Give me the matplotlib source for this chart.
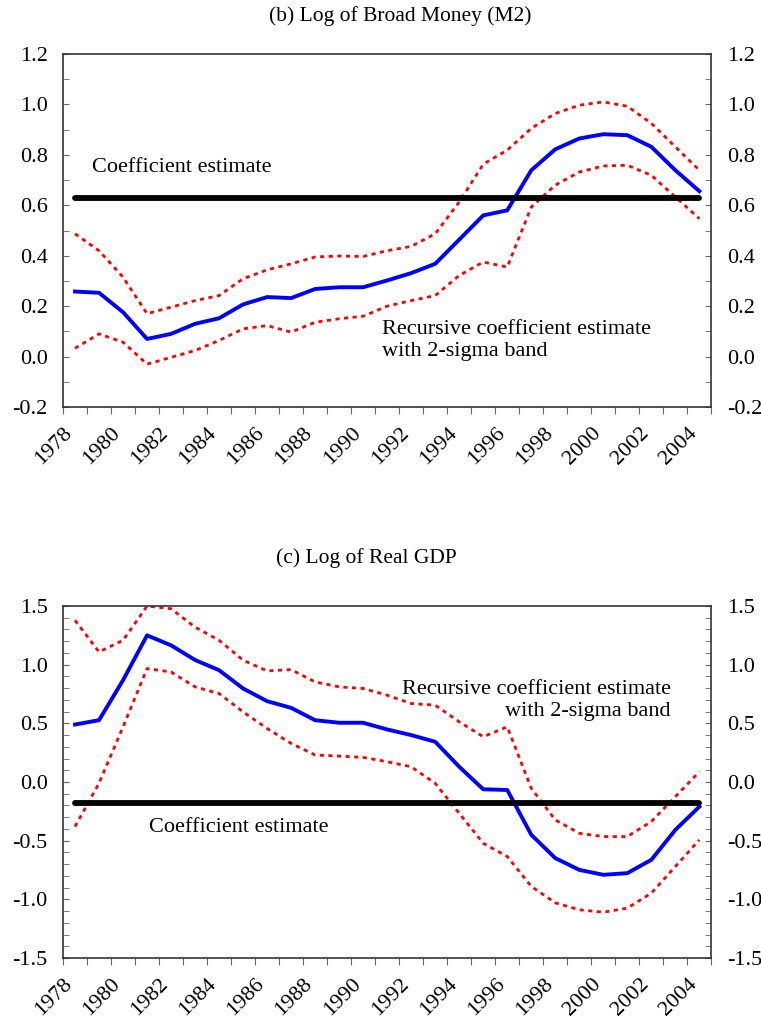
import matplotlib
matplotlib.use('Agg')
import matplotlib.pyplot as plt
import matplotlib.transforms as mtransforms
from matplotlib.ticker import MultipleLocator
import numpy as np

plt.rcParams['font.family'] = 'Liberation Serif'

years = np.arange(1978, 2005)

# (b) Log of Broad Money (M2)
m2_est = [0.258, 0.253, 0.176, 0.07, 0.09, 0.13, 0.152, 0.207, 0.236, 0.232,
          0.268, 0.275, 0.275, 0.302, 0.331, 0.368, 0.464, 0.56, 0.58, 0.739,
          0.822, 0.865, 0.882, 0.878, 0.832, 0.739, 0.656]
m2_upper = [0.487, 0.42, 0.315, 0.17, 0.196, 0.222, 0.242, 0.309, 0.344, 0.368,
            0.395, 0.399, 0.397, 0.42, 0.437, 0.487, 0.613, 0.763, 0.819, 0.905,
            0.964, 0.997, 1.01, 0.993, 0.925, 0.832, 0.739]
m2_lower = [0.033, 0.09, 0.057, -0.03, -0.003, 0.024, 0.064, 0.11, 0.123, 0.097,
            0.136, 0.15, 0.16, 0.2, 0.222, 0.242, 0.322, 0.375, 0.355, 0.593,
            0.68, 0.732, 0.756, 0.759, 0.719, 0.633, 0.547]
m2_coef = 0.63

# (c) Log of Real GDP
gdp_est = [0.49, 0.527, 0.868, 1.25, 1.165, 1.04, 0.953, 0.797, 0.689, 0.632,
           0.527, 0.505, 0.505, 0.448, 0.40, 0.343, 0.13, -0.062, -0.068, -0.45,
           -0.649, -0.749, -0.791, -0.777, -0.663, -0.408, -0.21]
gdp_upper = [1.378, 1.109, 1.208, 1.5, 1.477, 1.32, 1.208, 1.038, 0.947, 0.958,
             0.853, 0.811, 0.797, 0.74, 0.669, 0.655, 0.513, 0.386, 0.47, -0.054,
             -0.323, -0.437, -0.465, -0.465, -0.337, -0.125, 0.088]
gdp_lower = [-0.38, -0.01, 0.47, 0.967, 0.938, 0.811, 0.754, 0.598, 0.456, 0.329,
             0.23, 0.221, 0.21, 0.173, 0.13, -0.011, -0.267, -0.522, -0.635, -0.89,
             -1.03, -1.089, -1.11, -1.075, -0.947, -0.72, -0.493]
gdp_coef = -0.18

fs = 16
grey = '#666666'

fig = plt.figure(figsize=(7.61, 10.27), dpi=100)
ax1 = fig.add_axes([0.0828, 0.6037, 0.852, 0.3437])
ax2 = fig.add_axes([0.0828, 0.0672, 0.852, 0.3427])
shift = mtransforms.ScaledTranslation(-3 / 72, 0, fig.dpi_scale_trans)


def draw(ax, est, upper, lower, coef, ylim, major, minor):
    x = years + 0.5
    ax.plot(x, upper, color='red', linestyle=(0, (1.5, 1.6)), linewidth=2)
    ax.plot(x, lower, color='red', linestyle=(0, (1.5, 1.6)), linewidth=2)
    ax.plot(x, est, color='blue', linewidth=2.8)
    ax.plot([x[0], x[-1]], [coef, coef], color='black', linewidth=4.2,
            solid_capstyle='round')
    ax.set_xlim(1978, 2005)
    ax.set_ylim(*ylim)
    ax.yaxis.set_major_locator(MultipleLocator(major))
    ax.yaxis.set_minor_locator(MultipleLocator(minor))
    ax.yaxis.set_major_formatter(plt.FuncFormatter(lambda v, p: '%.1f' % v))
    ax.set_xticks(np.arange(1978, 2006))
    ax.set_xticklabels([str(y) if y % 2 == 0 and y < 2005 else '' for y in range(1978, 2006)],
                       rotation=45, ha='right', va='top', rotation_mode='anchor', fontsize=fs)
    for lab in ax.get_xticklabels():
        lab.set_transform(lab.get_transform() + shift)
    ax.tick_params(axis='y', which='both', direction='in', left=True, right=True,
                   labelright=True, length=4, color=grey, labelsize=fs, pad=11)
    ax.tick_params(axis='x', direction='out', length=5, color=grey, pad=7)
    for s in ax.spines.values():
        s.set_color('#333333')
        s.set_linewidth(1.2)


draw(ax1, m2_est, m2_upper, m2_lower, m2_coef, (-0.2, 1.2), 0.2, 0.1)
ax1.text(1979.2, 0.748, 'Coefficient estimate', fontsize=fs, va='center', ha='left')
ax1.text(1991.3, 0.065, 'Recursive coefficient estimate\nwith 2-sigma band',
         fontsize=fs, va='center', ha='left', linespacing=1.2)

draw(ax2, gdp_est, gdp_upper, gdp_lower, gdp_coef, (-1.5, 1.5), 0.5, 0.1)
ax2.text(1981.6, -0.384, 'Coefficient estimate', fontsize=fs, va='center', ha='left')
ax2.text(2003.3, 0.695, 'Recursive coefficient estimate\nwith 2-sigma band',
         fontsize=fs, va='center', ha='right', multialignment='right', linespacing=1.2)

fig.text(0.526, 0.984, '(b) Log of Broad Money (M2)', fontsize=15.5, ha='center', va='center')
fig.text(0.481, 0.457, '(c) Log of Real GDP', fontsize=15.5, ha='center', va='center')

fig.savefig('out.png', dpi=100)
